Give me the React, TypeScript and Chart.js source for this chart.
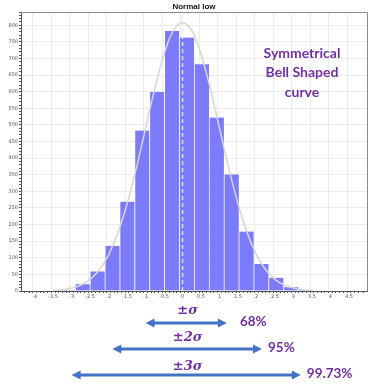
import React, { useEffect, useRef } from 'react';
import { Chart, registerables } from 'chart.js';

Chart.register(...registerables);

const binCenters = [-3.11, -2.707, -2.304, -1.902, -1.499, -1.096, -0.694, -0.291, 0.112, 0.515, 0.917, 1.32, 1.723, 2.125, 2.528, 2.931, 3.334];
const binCounts = [3, 20, 59, 136, 269, 483, 599, 783, 763, 683, 522, 351, 179, 81, 40, 11, 3];
const curveX = [-3.5, -3.25, -3, -2.75, -2.5, -2.25, -2, -1.75, -1.5, -1.25, -1, -0.75, -0.5, -0.25, 0, 0.25, 0.5, 0.75, 1, 1.25, 1.5, 1.75, 2, 2.25, 2.5, 2.75, 3, 3.25, 3.5];
const curveY = [2, 4, 9, 18, 35, 64, 109, 175, 263, 369, 490, 610, 713, 784, 808, 784, 713, 610, 490, 369, 263, 175, 109, 64, 35, 18, 9, 4, 2];
const meanValue = 0;
const titleText = 'Normal low';
const noteLines = ['Symmetrical', 'Bell Shaped', 'curve'];
const sigmaLabels = ['±σ', '±2σ', '±3σ'];
const coverageLabels = ['68%', '95%', '99.73%'];
const arrowFrom = [-1, -1.9, -3];
const arrowTo = [1.2, 2.15, 3.2];

const X_MIN = -4.37;
const X_MAX = 4.99;
const Y_MAX = 840;

const isMajor = (v: number, step: number) => Math.abs(v / step - Math.round(v / step)) < 1e-6;

const overlayPlugin = {
  id: 'overlay',
  afterDraw(chart: any) {
    const { ctx, chartArea } = chart;
    const xs = chart.scales.x;
    ctx.save();
    ctx.strokeStyle = '#8a8a8a';
    ctx.lineWidth = 1;
    ctx.beginPath();
    ctx.moveTo(chartArea.left, chartArea.top + 0.5);
    ctx.lineTo(chartArea.right + 0.5, chartArea.top + 0.5);
    ctx.lineTo(chartArea.right + 0.5, chartArea.bottom);
    ctx.stroke();

    ctx.fillStyle = '#111';
    ctx.font = 'bold 8px "Liberation Sans", Arial, sans-serif';
    ctx.textAlign = 'center';
    ctx.textBaseline = 'middle';
    ctx.fillText(titleText, (chartArea.left + chartArea.right) / 2, 6.5);

    ctx.fillStyle = '#7030A0';
    ctx.font = 'bold 14px Lato, "Open Sans", sans-serif';
    noteLines.forEach((t, i) => {
      ctx.fillText(t, 302, 53 + i * 19.5);
    });

    const centerX = xs.getPixelForValue(meanValue) + 5;
    const arrowYs = [323, 349, 375];
    const labelOffsets = [12, 11, 8];
    const labelGaps = [13, 6, 6];
    sigmaLabels.forEach((lab, i) => {
      const y = arrowYs[i];
      const x1 = xs.getPixelForValue(arrowFrom[i]);
      const x2 = xs.getPixelForValue(arrowTo[i]);
      ctx.strokeStyle = '#4472C4';
      ctx.fillStyle = '#4472C4';
      ctx.lineWidth = 3;
      ctx.beginPath();
      ctx.moveTo(x1 + 6, y);
      ctx.lineTo(x2 - 6, y);
      ctx.stroke();
      ctx.beginPath();
      ctx.moveTo(x1, y);
      ctx.lineTo(x1 + 9, y - 4.5);
      ctx.lineTo(x1 + 9, y + 4.5);
      ctx.closePath();
      ctx.fill();
      ctx.beginPath();
      ctx.moveTo(x2, y);
      ctx.lineTo(x2 - 9, y - 4.5);
      ctx.lineTo(x2 - 9, y + 4.5);
      ctx.closePath();
      ctx.fill();

      ctx.fillStyle = '#7030A0';
      ctx.font = 'italic bold 13px "DejaVu Serif", serif';
      ctx.textAlign = 'center';
      ctx.fillText(lab, centerX, y - labelOffsets[i]);

      ctx.font = 'bold 13.5px Lato, "Open Sans", sans-serif';
      ctx.textAlign = 'left';
      ctx.fillText(coverageLabels[i], x2 + labelGaps[i], y - 1);
    });
    ctx.restore();
  },
};

export default function App() {
  const ref = useRef<HTMLCanvasElement>(null);
  useEffect(() => {
    if (!ref.current) return;
    const chart = new Chart(ref.current, {
      type: 'bar',
      data: {
        datasets: [
          {
            type: 'line',
            label: 'mean',
            data: [{ x: meanValue, y: 0 }, { x: meanValue, y: Y_MAX }],
            borderColor: 'rgba(230,230,240,0.9)',
            borderWidth: 1.5,
            borderDash: [4, 3],
            pointRadius: 0,
            order: 0,
          } as any,
          {
            type: 'line',
            label: 'curve',
            data: curveX.map((x, i) => ({ x, y: curveY[i] })),
            borderColor: '#d6d6d6',
            borderWidth: 1.5,
            pointRadius: 0,
            tension: 0.4,
            order: 1,
          } as any,
          {
            type: 'bar',
            label: 'count',
            data: binCenters.map((x, i) => ({ x, y: binCounts[i] })),
            backgroundColor: '#7b7bfc',
            borderColor: 'rgba(255,255,255,0.5)',
            borderWidth: { left: 1, right: 0, top: 0, bottom: 0 },
            borderSkipped: false,
            barThickness: 'flex',
            barPercentage: 1,
            categoryPercentage: 1,
            order: 2,
          } as any,
        ],
      },
      options: {
        animation: false,
        responsive: false,
        layout: { padding: { top: 12, right: 7, bottom: 84, left: 0 } },
        plugins: { legend: { display: false }, title: { display: false }, tooltip: { enabled: false } },
        scales: {
          x: {
            type: 'linear',
            min: X_MIN,
            max: X_MAX,
            offset: false,
            afterFit: (s: any) => { s.height = 10; },
            border: { color: '#555', width: 1 },
            grid: {
              color: (c: any) => (c.tick && isMajor(c.tick.value, 0.5) ? '#ececec' : 'rgba(0,0,0,0)'),
              tickColor: '#555',
              tickLength: 2,
            },
            ticks: {
              stepSize: 0.1,
              autoSkip: false,
              maxTicksLimit: 500,
              maxRotation: 0,
              minRotation: 0,
              padding: 1,
              color: '#555',
              font: { size: 5, family: '"DejaVu Sans", sans-serif' },
              callback: (v: any) => (isMajor(v, 0.5) ? String(Math.round(v * 2) / 2) : ''),
            },
          },
          y: {
            type: 'linear',
            min: 0,
            max: Y_MAX,
            afterFit: (s: any) => { s.width = 21; },
            border: { color: '#555', width: 1 },
            grid: {
              color: (c: any) => (c.tick && isMajor(c.tick.value, 50) && c.tick.value > 0 ? '#ececec' : 'rgba(0,0,0,0)'),
              tickColor: '#555',
              tickLength: 2,
            },
            ticks: {
              stepSize: 10,
              autoSkip: false,
              maxTicksLimit: 500,
              padding: 1,
              color: '#555',
              font: { size: 5, family: '"DejaVu Sans", sans-serif' },
              callback: (v: any) => (isMajor(v, 50) && v <= 800 ? String(v) : ''),
            },
          },
        },
      },
      plugins: [overlayPlugin],
    });
    return () => chart.destroy();
  }, []);
  return (
    <div style={{ position: 'fixed', left: 0, top: 0, width: 374, height: 385, background: '#fff' }}>
      <canvas ref={ref} width={374} height={385} style={{ width: 374, height: 385 }} />
    </div>
  );
}
